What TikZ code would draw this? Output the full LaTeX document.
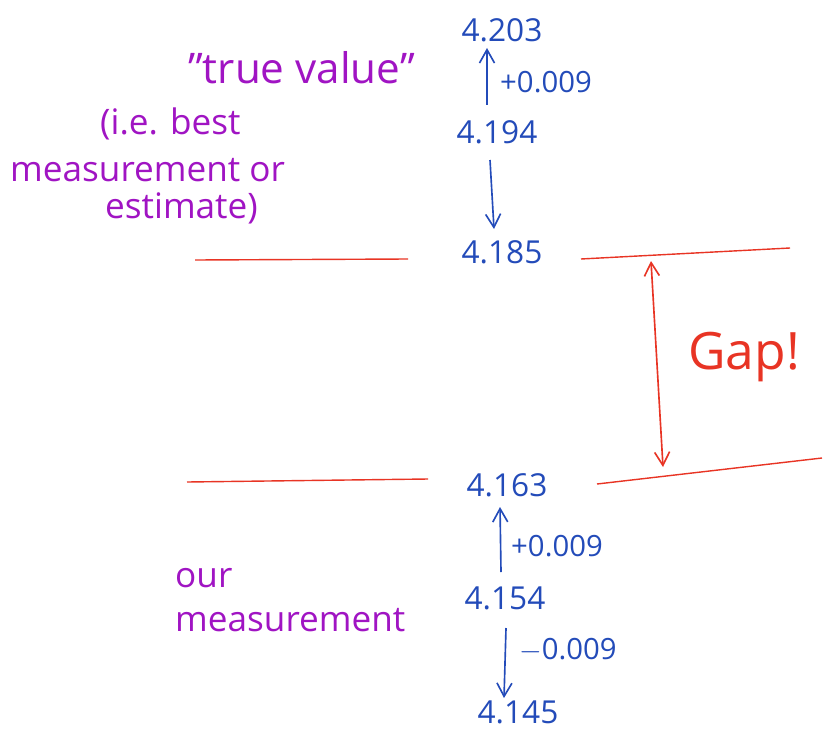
\documentclass[tikz,border=0pt]{standalone}
\usepackage{fontspec}
\setmainfont{Open Sans}
\usetikzlibrary{arrows.meta}
\definecolor{inkblue}{RGB}{35,75,185}
\definecolor{inkpurple}{RGB}{160,20,195}
\definecolor{inkred}{RGB}{232,52,36}
\tikzset{
	val/.style = {text=inkblue, font=\fontsize{27}{27}\selectfont, inner sep=0pt},
	diff/.style = {text=inkblue, font=\fontsize{25}{25}\selectfont, inner sep=0pt, anchor=west},
	note/.style = {text=inkpurple, font=\fontsize{30}{30}\selectfont, inner sep=0pt},
	bluearrow/.style = {inkblue, line width=1.4pt, -{Straight Barb[length=4mm,width=4.5mm]}},
	redline/.style = {inkred, line width=1.2pt},
}
\begin{document}
\begin{tikzpicture}[x=0.03cm, y=-0.03cm]
	\useasboundingbox (0,0) rectangle (824,732);
	% values
	\node [val] (v203) at (502,30) {4.203};
	\node [val] (v194) at (497,132) {4.194};
	\node [val] (v185) at (502,252) {4.185};
	\node [val] (v163) at (507,485) {4.163};
	\node [val] (v154) at (505,598) {4.154};
	\node [val] (v145) at (518,712) {4.145};
	% steps between them
	\coordinate (s1) at (487,105);
	\coordinate (e1) at (487,48);
	\coordinate (s2) at (490,160);
	\coordinate (e2) at (494,229);
	\coordinate (s3) at (501,572);
	\coordinate (e3) at (500,507);
	\coordinate (s4) at (506,628);
	\coordinate (e4) at (504,698);
	\draw [bluearrow] (s1) -- (e1);
	\draw [bluearrow] (s2) -- (e2);
	\draw [bluearrow] (s3) -- (e3);
	\draw [bluearrow] (s4) -- (e4);
	\node [diff] (d1) at (500,82) {+0.009};
	\node [diff] (d2) at (511,546) {+0.009};
	\node [diff] (d3) at (519,650) {$-$0.009};
	% the two levels
	\coordinate (a1) at (195,260);
	\coordinate (a2) at (408,259);
	\coordinate (a3) at (581,259);
	\coordinate (a4) at (790,248);
	\coordinate (b1) at (187,482);
	\coordinate (b2) at (428,479);
	\coordinate (b3) at (597,484);
	\coordinate (b4) at (822,458);
	\draw [redline] (a1) -- (a2);
	\draw [redline] (a3) -- (a4);
	\draw [redline] (b1) -- (b2);
	\draw [redline] (b3) -- (b4);
	\coordinate (g1) at (651,261);
	\coordinate (g2) at (663,467);
	\draw [redline, line width=1.4pt, {Straight Barb[length=4mm,width=4.5mm]}-{Straight Barb[length=4mm,width=4.5mm]}] (g1) -- (g2);
	\node [text=inkred, font=\fontsize{44}{44}\selectfont, inner sep=0pt, anchor=west] (gap) at (688,357) {Gap!};
	% notes
	\node [note, anchor=east, font=\fontsize{36}{36}\selectfont] (true) at (415,68) {\char"0022 true value\char"0022};
	\node [note, anchor=west] (ie1) at (100,124) {(i.e. best};
	\node [note, anchor=west] (ie2) at (10,170) {measurement or};
	\node [note, anchor=west] (ie3) at (105,208) {estimate)};
	\node [note, anchor=west] (our) at (175,578) {our};
	\node [note, anchor=west] (ours) at (175,620) {measurement};
\end{tikzpicture}
\end{document}
